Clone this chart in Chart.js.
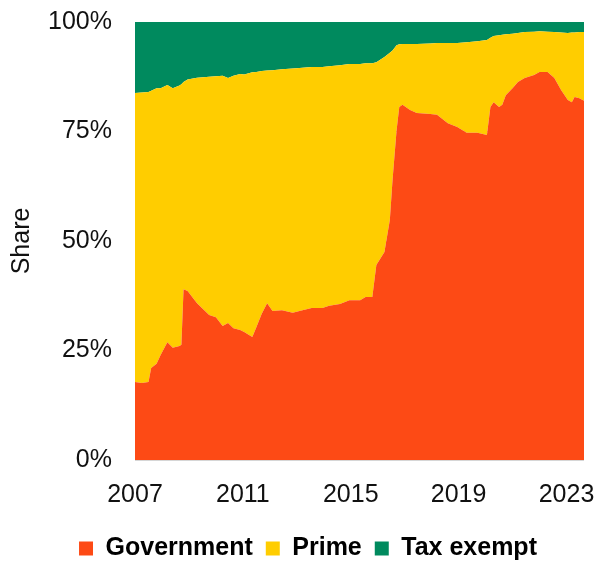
<!DOCTYPE html>
<html>
<head>
<meta charset="utf-8">
<script src="https://cdn.jsdelivr.net/npm/chart.js@4.4.1/dist/chart.umd.min.js"></script>
<style>
  body { margin: 0; background: #fff; }
  canvas { display: block; }
</style>
</head>
<body>
<canvas id="sharechart" width="600" height="561"></canvas>
<script>
// dates as fractional years, shares in percent
const years = [
    2007.00, 2007.25, 2007.50, 2007.60, 2007.80, 2007.95, 2008.20, 2008.40, 2008.65, 2008.72,
    2008.80, 2008.95, 2009.30, 2009.75, 2010.00, 2010.25, 2010.45, 2010.65, 2010.90, 2011.05,
    2011.35, 2011.50, 2011.70, 2011.90, 2012.10, 2012.45, 2012.85, 2013.10, 2013.55, 2013.95,
    2014.20, 2014.60, 2014.95, 2015.35, 2015.55, 2015.80, 2015.95, 2016.25, 2016.45, 2016.55,
    2016.70, 2016.80, 2016.92, 2017.20, 2017.45, 2017.95, 2018.20, 2018.60, 2018.95, 2019.30,
    2019.70, 2020.05, 2020.18, 2020.30, 2020.50, 2020.62, 2020.75, 2021.00, 2021.20, 2021.45,
    2021.80, 2022.00, 2022.30, 2022.55, 2022.80, 2023.05, 2023.20, 2023.30, 2023.48, 2023.65
];
const government = [
    17.8, 17.6, 17.8, 21.0, 22.0, 24.0, 26.9, 25.6, 26.0, 26.3,
    39.0, 38.6, 35.8, 33.1, 32.6, 30.6, 31.3, 30.1, 29.7, 29.2,
    28.1, 30.3, 33.4, 35.8, 34.0, 34.2, 33.6, 34.0, 34.7, 34.7,
    35.2, 35.6, 36.5, 36.5, 37.2, 37.2, 44.5, 47.5, 54.8, 63.9,
    75.3, 80.6, 81.1, 79.9, 79.2, 79.0, 78.8, 76.9, 76.0, 74.7,
    74.7, 74.2, 80.6, 81.7, 80.6, 81.1, 83.3, 84.9, 86.3, 87.2,
    87.9, 88.6, 88.6, 87.2, 84.5, 82.2, 81.7, 82.9, 82.6, 82.0
];
const prime = [
    66.0, 66.3, 66.2, 63.3, 62.9, 60.9, 58.7, 59.3, 59.5, 59.5,
    47.3, 48.3, 51.5, 54.4, 55.0, 57.1, 55.9, 57.6, 58.4, 58.8,
    60.4, 58.3, 55.4, 53.1, 55.0, 55.0, 55.8, 55.5, 55.0, 55.0,
    54.7, 54.5, 53.9, 53.9, 53.4, 53.4, 46.3, 44.5, 38.2, 29.6,
    19.4, 14.3, 13.9, 15.1, 15.8, 16.1, 16.4, 18.3, 19.2, 20.7,
    20.9, 21.7, 15.8, 15.1, 16.4, 16.0, 13.9, 12.4, 11.2, 10.5,
    9.9, 9.3, 9.2, 10.5, 13.1, 15.3, 15.9, 14.7, 15.1, 15.7
];
const taxExempt = [
    16.2, 16.1, 16.0, 15.7, 15.1, 15.1, 14.4, 15.1, 14.5, 14.2,
    13.7, 13.1, 12.7, 12.5, 12.4, 12.3, 12.8, 12.3, 11.9, 12.0,
    11.5, 11.4, 11.2, 11.1, 11.0, 10.8, 10.6, 10.5, 10.3, 10.3,
    10.1, 9.9, 9.6, 9.6, 9.4, 9.4, 9.2, 8.0, 7.0, 6.5,
    5.3, 5.1, 5.0, 5.0, 5.0, 4.9, 4.8, 4.8, 4.8, 4.6,
    4.4, 4.1, 3.6, 3.2, 3.0, 2.9, 2.8, 2.7, 2.5, 2.3,
    2.2, 2.1, 2.2, 2.3, 2.4, 2.5, 2.4, 2.4, 2.3, 2.3
];
const tickYears = [2007, 2011, 2015, 2019, 2023];
const yTicks = [0, 25, 50, 75, 100];

const font = "'Liberation Sans', Arial, sans-serif";

function series(label, values, color, fill){
    return {
        label: label,
        data: years.map((x, i) => ({x: x, y: values[i]})),
        backgroundColor: color,
        borderColor: color,
        borderWidth: 0,
        pointRadius: 0,
        fill: fill,
        tension: 0
    };
}

// let the layout padding alone decide the plot edges
function noOverhang(axis){
    axis.paddingTop = 0;
    axis.paddingBottom = 0;
    axis.paddingLeft = 0;
    axis.paddingRight = 0;
}

const ctx = document.getElementById('sharechart').getContext('2d');
new Chart(ctx, {
    type: 'line',
    data: {
        datasets: [
            series('Government', government, '#fd4a15', 'origin'),
            series('Prime', prime, '#ffcd00', '-1'),
            series('Tax exempt', taxExempt, '#008a5e', '-1')
        ]
    },
    options: {
        responsive: false,
        animation: false,
        // left padding only pushes the legend to the right; y axis width makes up for it
        layout: { padding: { top: 22, right: 16, left: 32, bottom: -10 } },
        plugins: {
            tooltip: { enabled: false },
            legend: {
                position: 'bottom',
                labels: {
                    boxWidth: 14,
                    boxHeight: 14,
                    padding: 13,
                    color: '#000',
                    font: { family: font, size: 25, weight: 'bold' }
                }
            }
        },
        scales: {
            x: {
                type: 'linear',
                min: 2007,
                max: 2023.65,
                grid: { display: false, drawTicks: false },
                border: { display: false },
                afterBuildTicks: axis => { axis.ticks = tickYears.map(v => ({value: v})); },
                afterFit: axis => { axis.height = 63; noOverhang(axis); },
                ticks: {
                    padding: 20,
                    maxRotation: 0,
                    color: '#111',
                    font: { family: font, size: 25 },
                    callback: v => String(v)
                }
            },
            y: {
                stacked: true,
                min: 0,
                max: 100,
                grid: { color: '#d6d6d6', drawTicks: false },
                border: { display: false },
                afterBuildTicks: axis => { axis.ticks = yTicks.map(v => ({value: v})); },
                afterFit: axis => { axis.width = 103; noOverhang(axis); },
                ticks: {
                    padding: 23,
                    color: '#111',
                    font: { family: font, size: 25 },
                    callback: v => v + '%'
                },
                title: {
                    display: true,
                    text: 'Share',
                    color: '#111',
                    padding: { top: -25, bottom: 0 },
                    font: { family: font, size: 25 }
                }
            }
        }
    }
});
</script>
</body>
</html>
